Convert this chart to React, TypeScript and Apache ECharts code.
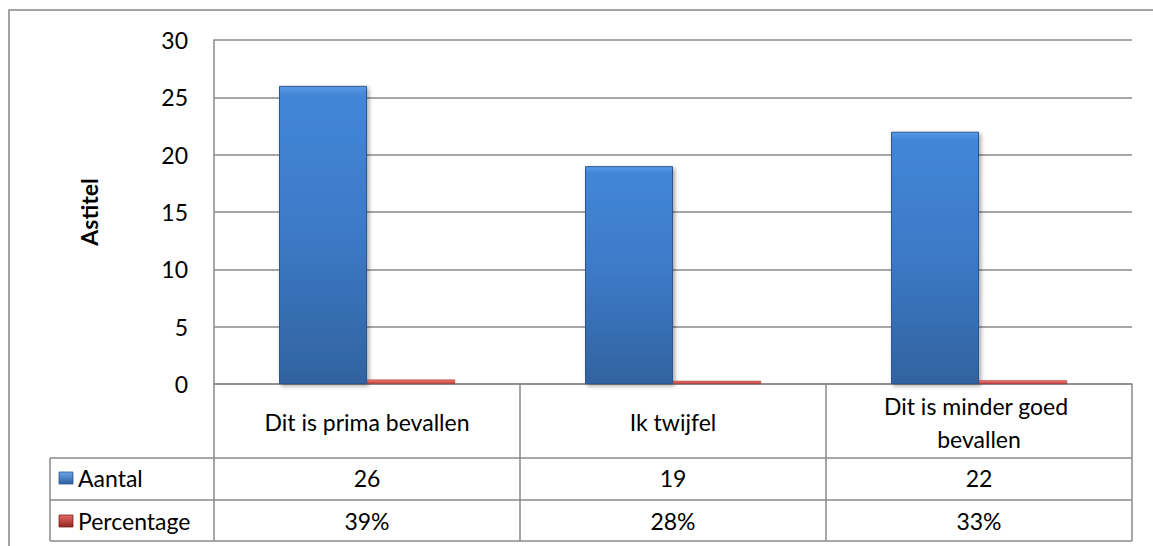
import React, { useEffect, useRef } from "react";
import * as echarts from "echarts";

const categories = ["Dit is prima bevallen", "Ik twijfel", "Dit is minder goed bevallen"];
const seriesNames = ["Aantal", "Percentage"];
const aantal = [26, 19, 22];
const percentage = [0.39, 0.28, 0.33];
const yTicks = { min: 0, max: 30, interval: 5 };
const axisTitle = "Astitel";

const FONT = "Lato, 'Liberation Sans', sans-serif";
const FS = 23;
const LINE = "#8a8a8a";

export default function App() {
  const ref = useRef<HTMLDivElement>(null);
  useEffect(() => {
    if (!ref.current) return;
    const chart = echarts.init(ref.current, undefined, { renderer: "svg" });

    const gridLeft = 214;
    const gridRight = 1132;
    const gridTop = 40;
    const gridBottom = 384;
    const rowLines = [458, 500, 541];
    const rowCenters = [478, 521];
    const W = 1153;
    const H = 546;

    const blueFill = new echarts.graphic.LinearGradient(0, 0, 0, 1, [
      { offset: 0, color: "#5a9ae6" },
      { offset: 0.03, color: "#4386d8" },
      { offset: 0.5, color: "#3c79c6" },
      { offset: 1, color: "#31639f" },
    ]);
    const redFill = new echarts.graphic.LinearGradient(0, 0, 0, 1, [
      { offset: 0, color: "#f07a76" },
      { offset: 1, color: "#c0403c" },
    ]);
    const keyBlue = new echarts.graphic.LinearGradient(0, 0, 0, 1, [
      { offset: 0, color: "#6aa6ea" },
      { offset: 1, color: "#2f5f9e" },
    ]);
    const keyRed = new echarts.graphic.LinearGradient(0, 0, 0, 1, [
      { offset: 0, color: "#e86a66" },
      { offset: 1, color: "#8f2522" },
    ]);

    const graphics: any[] = [
      {
        type: "rect",
        shape: { x: 9, y: 10, width: 1200, height: 600 },
        style: { fill: "none", stroke: "#868686", lineWidth: 1.5 },
        silent: true,
      },
    ];
    rowLines.forEach((y) => {
      graphics.push({
        type: "line",
        shape: { x1: 50, y1: y, x2: gridRight, y2: y },
        style: { stroke: LINE, lineWidth: 1.5 },
        silent: true,
      });
    });
    graphics.push({
      type: "line",
      shape: { x1: 50, y1: rowLines[0], x2: 50, y2: rowLines[2] },
      style: { stroke: LINE, lineWidth: 1.5 },
      silent: true,
    });
    seriesNames.forEach((name, i) => {
      graphics.push({
        type: "rect",
        shape: { x: 59, y: rowCenters[i] - 6, width: 14, height: 12 },
        style: { fill: i === 0 ? keyBlue : keyRed, stroke: i === 0 ? "#2a5590" : "#7a1f1c", lineWidth: 0.8 },
        silent: true,
      });
      graphics.push({
        type: "text",
        x: 78,
        y: rowCenters[i],
        style: {
          text: name,
          fill: "#000",
          font: `${FS}px ${FONT}`,
          verticalAlign: "middle",
          align: "left",
        },
        silent: true,
      });
    });

    const hiddenAxis = (data: string[], margin: number) => ({
      type: "category",
      data,
      position: "bottom",
      gridIndex: 0,
      axisLine: { show: false },
      axisTick: { show: false },
      splitLine: { show: false },
      axisLabel: {
        interval: 0,
        margin,
        verticalAlign: "middle",
        color: "#000",
        fontSize: FS,
        fontFamily: FONT,
      },
    });

    chart.setOption({
      animation: false,
      backgroundColor: "#fff",
      grid: {
        left: gridLeft,
        right: W - gridRight,
        top: gridTop,
        bottom: H - gridBottom,
        containLabel: false,
      },
      xAxis: [
        {
          type: "category",
          data: categories,
          position: "bottom",
          axisLine: { show: true, lineStyle: { color: LINE, width: 1.5 } },
          axisTick: {
            show: true,
            interval: 0,
            alignWithLabel: false,
            length: rowLines[2] - gridBottom,
            lineStyle: { color: LINE, width: 1.5 },
          },
          axisLabel: {
            interval: 0,
            margin: 38,
            verticalAlign: "middle",
            lineHeight: 33,
            width: 228,
            overflow: "break",
            color: "#000",
            fontSize: FS,
            fontFamily: FONT,
          },
        },
        hiddenAxis(aantal.map((v) => String(v)), rowCenters[0] - gridBottom),
        hiddenAxis(percentage.map((v) => `${Math.round(v * 100)}%`), rowCenters[1] - gridBottom),
      ],
      yAxis: {
        type: "value",
        min: yTicks.min,
        max: yTicks.max,
        interval: yTicks.interval,
        name: axisTitle,
        nameLocation: "middle",
        nameGap: 114,
        nameRotate: 90,
        nameTextStyle: { fontWeight: "bold", fontSize: FS, fontFamily: FONT, color: "#000" },
        axisLine: { show: true, lineStyle: { color: LINE, width: 1.5 } },
        axisTick: { show: false },
        axisLabel: { margin: 26, color: "#000", fontSize: FS, fontFamily: FONT },
        splitLine: { show: true, lineStyle: { color: LINE, width: 1.5 } },
      },
      series: [
        {
          name: seriesNames[0],
          type: "bar",
          data: aantal,
          barWidth: 88,
          barGap: "0%",
          itemStyle: {
            color: blueFill,
            borderColor: "#2b5793",
            borderWidth: 1,
            shadowColor: "rgba(0,0,0,0.35)",
            shadowBlur: 4,
            shadowOffsetX: 2,
            shadowOffsetY: 2,
          },
        },
        {
          name: seriesNames[1],
          type: "bar",
          data: percentage,
          barWidth: 88,
          barGap: "0%",
          itemStyle: {
            color: redFill,
            borderColor: "#9c2c29",
            borderWidth: 0.5,
          },
        },
      ],
      graphic: graphics,
    });
    return () => chart.dispose();
  }, []);
  return (
    <div
      ref={ref}
      style={{ position: "absolute", left: 0, top: 0, width: 1153, height: 546 }}
    />
  );
}
